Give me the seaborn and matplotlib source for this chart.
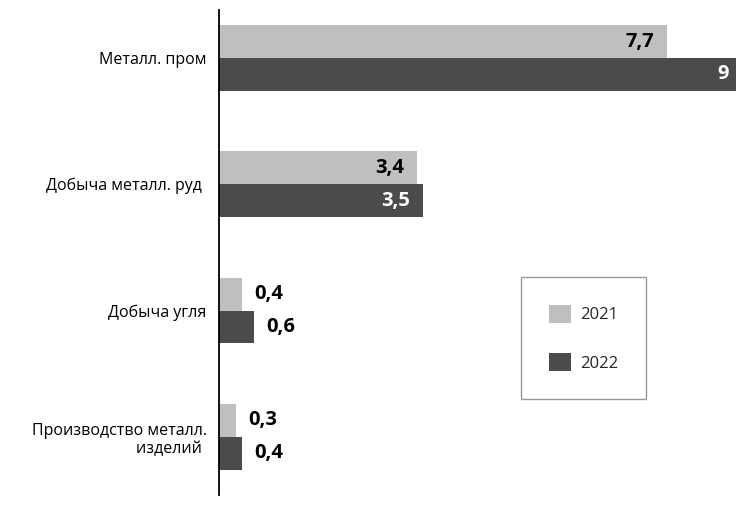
import matplotlib
matplotlib.use("Agg")
import matplotlib.pyplot as plt
import seaborn as sns
import pandas as pd

categories = ["Металл. пром", "Добыча металл. руд ", "Добыча угля", "Производство металл.\nизделий "]
years = ["2021", "2022"]
values_2021 = [7.7, 3.4, 0.4, 0.3]
values_2022 = [9, 3.5, 0.6, 0.4]
colors = ["#bfbfbf", "#4b4b4b"]

rows = []
for c, v in zip(categories, values_2021):
    rows.append({"cat": c, "year": years[0], "value": v})
for c, v in zip(categories, values_2022):
    rows.append({"cat": c, "year": years[1], "value": v})
df = pd.DataFrame(rows)

sns.set_theme(style="white")
plt.rcParams["font.family"] = ["Open Sans", "DejaVu Sans"]

fig = plt.figure(figsize=(7.36, 5.19), dpi=100)
ax = fig.add_axes([219 / 736, 24 / 519, 1 - 219 / 736, 485 / 519])

sns.barplot(data=df, y="cat", x="value", hue="year", order=categories,
            hue_order=years, palette=colors, orient="h", width=0.52,
            saturation=1, linewidth=0, ax=ax)

XMAX = 8.88
ax.set_xlim(0, XMAX)
ax.set_ylim(3.46, -0.38)
ax.set_xlabel("")
ax.set_ylabel("")
ax.set_xticks([])
for s in ["top", "right", "bottom"]:
    ax.spines[s].set_visible(False)
ax.spines["left"].set_color("black")
ax.spines["left"].set_linewidth(1.3)
ax.tick_params(axis="y", length=0, pad=9, labelsize=11.5, colors="black")
for t in ax.get_yticklabels():
    t.set_linespacing(1.2)

def fmt(v):
    s = f"{v:g}"
    return s.replace(".", ",")

for container, yr in zip(ax.containers, years):
    for bar in container:
        v = bar.get_width()
        yc = bar.get_y() + bar.get_height() / 2
        if v > 1:
            xe = min(v, XMAX)
            off = -7 if v > XMAX else -13
            col = "black" if yr == years[0] else "white"
            ax.annotate(fmt(v), (xe, yc), xytext=(off, 0), textcoords="offset pixels",
                        ha="right", va="center", fontsize=14.5, fontweight="bold", color=col)
        else:
            ax.annotate(fmt(v), (v, yc), xytext=(12, 0), textcoords="offset pixels",
                        ha="left", va="center", fontsize=14.5, fontweight="bold", color="black")

leg = ax.legend(loc="upper left", bbox_to_anchor=(521 / 736, 1 - 277 / 519),
                bbox_transform=fig.transFigure, frameon=True, fancybox=False,
                fontsize=12, handlelength=1.35, handleheight=1.35, handletextpad=0.55,
                labelspacing=1.75, borderpad=1.65, borderaxespad=0)
leg.get_frame().set_edgecolor("#808080")
leg.get_frame().set_linewidth(1.0)

fig.savefig("out.png", dpi=100)
